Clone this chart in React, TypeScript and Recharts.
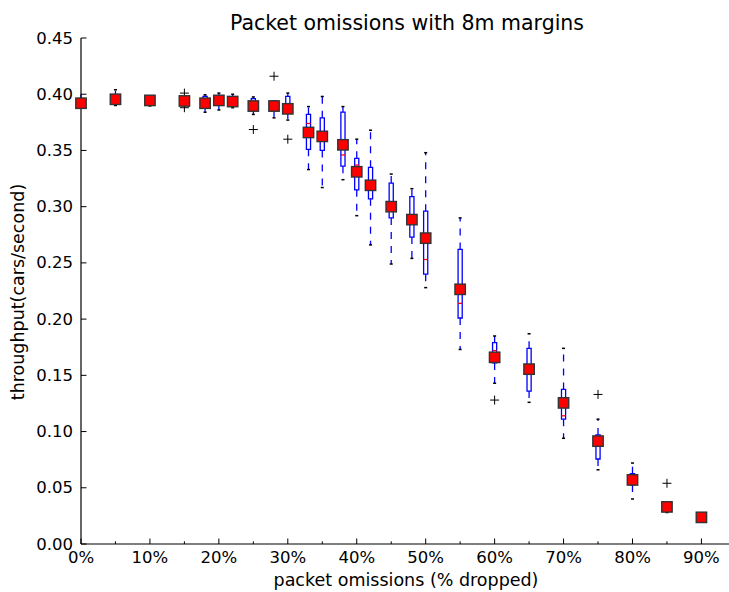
import { ComposedChart, XAxis, YAxis, Scatter, ReferenceArea, ReferenceLine } from 'recharts';

// box positions (% dropped)
const positions = [0, 5, 10, 15, 18, 20, 22, 25, 28, 30, 33, 35, 38, 40, 42, 45, 48, 50, 55, 60, 65, 70, 75, 80, 85, 90];

// mean throughput (red squares)
const means = [0.392, 0.3955, 0.3945, 0.394, 0.392, 0.3945, 0.3935, 0.3895, 0.3895, 0.387, 0.366, 0.3625, 0.355, 0.331, 0.319, 0.3, 0.2885, 0.272, 0.2265, 0.166, 0.1555, 0.1255, 0.0915, 0.057, 0.033, 0.0237];

// box plot stats
const whiskerHigh = [0.4006, 0.404, 0.398, 0.396, 0.3995, 0.401, 0.4, 0.3976, 0.393, 0.401, 0.389, 0.398, 0.389, 0.36, 0.368, 0.329, 0.316, 0.348, 0.29, 0.185, 0.187, 0.174, 0.111, 0.072, 0.034, 0.025];
const q3 = [0.394, 0.397, 0.396, 0.395, 0.398, 0.397, 0.396, 0.396, 0.394, 0.398, 0.382, 0.379, 0.384, 0.343, 0.335, 0.321, 0.309, 0.296, 0.262, 0.179, 0.174, 0.1375, 0.097, 0.0625, 0.031, 0.024];
const medians = [0.392, 0.395, 0.394, 0.394, 0.392, 0.394, 0.393, 0.39, 0.39, 0.388, 0.374, 0.362, 0.346, 0.337, 0.32, 0.302, 0.29, 0.253, 0.214, 0.172, 0.155, 0.114, 0.09, 0.057, 0.03, 0.024];
const q1 = [0.39, 0.393, 0.392, 0.393, 0.388, 0.391, 0.391, 0.387, 0.386, 0.384, 0.351, 0.35, 0.336, 0.315, 0.307, 0.29, 0.273, 0.24, 0.201, 0.161, 0.136, 0.111, 0.0756, 0.0525, 0.029, 0.0235];
const whiskerLow = [0.387, 0.39, 0.3896, 0.392, 0.384, 0.386, 0.388, 0.382, 0.379, 0.377, 0.333, 0.317, 0.324, 0.292, 0.266, 0.249, 0.254, 0.228, 0.173, 0.143, 0.126, 0.094, 0.066, 0.04, 0.028, 0.023];

// outliers (+)
const flierX = [15, 15, 25, 28, 30, 60, 75, 85];
const flierY = [0.401, 0.388, 0.3686, 0.416, 0.36, 0.128, 0.133, 0.054];

const xTicks = [0, 5, 10, 15, 20, 25, 30, 35, 40, 45, 50, 55, 60, 65, 70, 75, 80, 85, 90];
const yTicks = [0, 0.05, 0.1, 0.15, 0.2, 0.25, 0.3, 0.35, 0.4, 0.45];

const FONT = '"DejaVu Sans", sans-serif';
const BLUE = '#0000ff';
const boxHalf = 0.3;
const capHalf = 0.22;

function BottomTick({ x, y, payload }: any) {
  const major = payload.value % 10 === 0;
  return (
    <g>
      <line x1={x} x2={x} y1={y} y2={y - (major ? 5.5 : 2.7)} stroke="#000" />
      {major && (
        <text x={x} y={y + 18.5} textAnchor="middle" fontSize={16.5} fontFamily={FONT} fill="#000">
          {payload.value}%
        </text>
      )}
    </g>
  );
}

function TopTick({ x, y, payload }: any) {
  const major = payload.value % 10 === 0;
  return <line x1={x} x2={x} y1={y} y2={y + (major ? 5.5 : 2.7)} stroke="#000" />;
}

function LeftTick({ x, y, payload }: any) {
  return (
    <g>
      <line x1={x} x2={x + 5.5} y1={y} y2={y} stroke="#000" />
      <text x={x - 8} y={y} dy="0.34em" textAnchor="end" fontSize={16.5} fontFamily={FONT} fill="#000">
        {payload.value.toFixed(2)}
      </text>
    </g>
  );
}

const MeanSquare = ({ cx, cy }: any) => (
  <rect x={cx - 5.2} y={cy - 5.2} width={10.4} height={10.4} fill="#ff0000" stroke="#333" strokeWidth={1.4} />
);

const Plus = ({ cx, cy }: any) => (
  <g stroke="#000" strokeWidth={1}>
    <line x1={cx - 4.5} x2={cx + 4.5} y1={cy} y2={cy} />
    <line x1={cx} x2={cx} y1={cy - 4.5} y2={cy + 4.5} />
  </g>
);

export default function App() {
  const meanData = positions.map((x, i) => ({ x, y: means[i] }));
  const flierData = flierX.map((x, i) => ({ x, y: flierY[i] }));

  return (
    <div style={{ position: 'absolute', left: 0, top: 0, width: 729, height: 592, background: '#fff', overflow: 'hidden' }}>
      <ComposedChart width={729} height={592} margin={{ top: 38, right: 0, bottom: 0, left: 0 }}>
        <XAxis
          dataKey="x"
          type="number"
          domain={[0, 94]}
          ticks={xTicks}
          interval={0}
          height={48}
          tickSize={0}
          tickMargin={0}
          tickLine={false}
          tick={<BottomTick />}
          axisLine={{ stroke: '#000', strokeWidth: 1.2 }}
        />
        <XAxis
          xAxisId="top"
          orientation="top"
          dataKey="x"
          type="number"
          domain={[0, 94]}
          ticks={xTicks}
          interval={0}
          height={0}
          tickSize={0}
          tickMargin={0}
          tickLine={false}
          tick={<TopTick />}
          axisLine={{ stroke: '#000', strokeWidth: 1.2 }}
        />
        <YAxis
          dataKey="y"
          type="number"
          domain={[0, 0.45]}
          ticks={yTicks}
          interval={0}
          width={81}
          tickSize={0}
          tickMargin={0}
          tickLine={false}
          tick={<LeftTick />}
          axisLine={{ stroke: '#000', strokeWidth: 1.2 }}
        />

        {positions.map((p, i) => (
          <ReferenceLine
            key={`wh-${p}`}
            segment={[{ x: p, y: q3[i] }, { x: p, y: whiskerHigh[i] }]}
            stroke={BLUE}
            strokeWidth={1.3}
            strokeDasharray="7 7"
          />
        ))}
        {positions.map((p, i) => (
          <ReferenceLine
            key={`wl-${p}`}
            segment={[{ x: p, y: q1[i] }, { x: p, y: whiskerLow[i] }]}
            stroke={BLUE}
            strokeWidth={1.3}
            strokeDasharray="7 7"
          />
        ))}
        {positions.map((p, i) => (
          <ReferenceLine
            key={`ch-${p}`}
            segment={[{ x: p - capHalf, y: whiskerHigh[i] }, { x: p + capHalf, y: whiskerHigh[i] }]}
            stroke="#000"
            strokeWidth={1.5}
          />
        ))}
        {positions.map((p, i) => (
          <ReferenceLine
            key={`cl-${p}`}
            segment={[{ x: p - capHalf, y: whiskerLow[i] }, { x: p + capHalf, y: whiskerLow[i] }]}
            stroke="#000"
            strokeWidth={1.5}
          />
        ))}
        {positions.map((p, i) => (
          <ReferenceArea
            key={`box-${p}`}
            x1={p - boxHalf}
            x2={p + boxHalf}
            y1={q1[i]}
            y2={q3[i]}
            fill="none"
            stroke={BLUE}
            strokeWidth={1.3}
          />
        ))}
        {positions.map((p, i) => (
          <ReferenceLine
            key={`med-${p}`}
            segment={[{ x: p - boxHalf, y: medians[i] }, { x: p + boxHalf, y: medians[i] }]}
            stroke="#ff0000"
            strokeWidth={1.3}
          />
        ))}

        <Scatter data={flierData} dataKey="y" shape={<Plus />} isAnimationActive={false} />
        <Scatter data={meanData} dataKey="y" shape={<MeanSquare />} isAnimationActive={false} />
      </ComposedChart>

      <svg width={729} height={592} style={{ position: 'absolute', left: 0, top: 0, pointerEvents: 'none' }}>
        <text x={407} y={30} textAnchor="middle" fontSize={20.5} fontFamily={FONT} fill="#000">
          Packet omissions with 8m margins
        </text>
        <text x={406} y={586} textAnchor="middle" fontSize={17.5} fontFamily={FONT} fill="#000">
          packet omissions (% dropped)
        </text>
        <text
          x={24}
          y={292}
          transform="rotate(-90 24 292)"
          textAnchor="middle"
          fontSize={17.5}
          fontFamily={FONT}
          fill="#000"
        >
          throughput(cars/second)
        </text>
      </svg>
    </div>
  );
}
